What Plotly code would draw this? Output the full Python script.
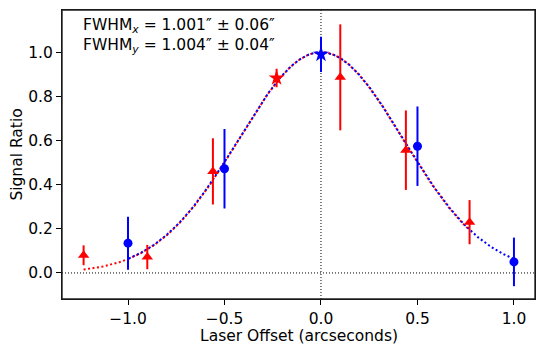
import numpy as np
import plotly.graph_objects as go

# measured points (laser offset in arcsec, signal ratio, 1-sigma error)
blue_x = [-1.0, -0.5, 0.5, 1.0]
blue_y = [0.135, 0.472, 0.574, 0.05]
blue_err = [0.12, 0.18, 0.18, 0.11]

blue_star_x = [0.0]
blue_star_y = [0.99]
blue_star_err = [0.08]

red_x = [-1.23, -0.9, -0.56, 0.10, 0.44, 0.77]
red_y = [0.08, 0.072, 0.46, 0.886, 0.556, 0.23]
red_err = [0.045, 0.055, 0.15, 0.24, 0.18, 0.10]

red_star_x = [-0.23]
red_star_y = [0.883]
red_star_err = [0.042]

# gaussian fit results
fwhm_x, fwhm_x_err = 1.001, 0.06
fwhm_y, fwhm_y_err = 1.004, 0.04

x_ticks = [-1.0, -0.5, 0.0, 0.5, 1.0]
y_ticks = [0.0, 0.2, 0.4, 0.6, 0.8, 1.0]

RED = "#ff0000"
BLUE = "#0000ff"
FONT = "DejaVu Sans"
FS = 15.5


def gauss(x, fwhm):
    sig = fwhm / (2 * np.sqrt(2 * np.log(2)))
    return np.exp(-x**2 / (2 * sig**2))


fig = go.Figure()

# fit curves - red split at -1.0 so its dots sit next to the blue ones
grid = np.linspace(-1.0, 1.0, 400)
red_left = np.linspace(min(red_x), -1.0, 50)
red_right = grid[grid <= max(red_x)]

fig.add_trace(go.Scatter(x=red_left, y=gauss(red_left, fwhm_x), mode="lines",
                         line=dict(color=RED, width=2, dash="2px,2.5px"), showlegend=False))
fig.add_trace(go.Scatter(x=red_right, y=gauss(red_right, fwhm_x), mode="lines",
                         line=dict(color=RED, width=2, dash="2px,2.5px"), showlegend=False))
fig.add_trace(go.Scatter(x=grid, y=gauss(grid, fwhm_y), mode="lines",
                         line=dict(color=BLUE, width=2, dash="0px,1px,2px,1.5px"),
                         showlegend=False))


def pts(x, y, err, color, symbol, size):
    fig.add_trace(go.Scatter(
        x=x, y=y, mode="markers",
        marker=dict(color=color, symbol=symbol, size=size, line=dict(width=0)),
        error_y=dict(type="data", array=err, color=color, thickness=2, width=0),
        showlegend=False))


pts(red_x, red_y, red_err, RED, "triangle-up", 10)
pts(red_star_x, red_star_y, red_star_err, RED, "star", 12)
pts(blue_x, blue_y, blue_err, BLUE, "circle", 9)
pts(blue_star_x, blue_star_y, blue_star_err, BLUE, "star", 12)

# zero reference lines
fig.add_hline(y=0, line=dict(color="black", width=1, dash="1px,2px"), layer="below")
fig.add_vline(x=0, line=dict(color="black", width=1, dash="1px,2px"), layer="below")

# full box around the axes
fig.add_shape(type="rect", xref="paper", yref="paper", x0=0, x1=1, y0=0, y1=1,
              line=dict(color="#222222", width=1.4), fillcolor="rgba(0,0,0,0)", layer="above")

txt = (f"FWHM<sub><i>x</i></sub> = {fwhm_x:.3f}″ ± {fwhm_x_err:.2f}″<br>"
       f"FWHM<sub><i>y</i></sub> = {fwhm_y:.3f}″ ± {fwhm_y_err:.2f}″")
fig.add_annotation(x=0.04, y=0.985, xref="paper", yref="paper", text=txt,
                   showarrow=False, xanchor="left", yanchor="top", align="left",
                   font=dict(family=FONT, size=FS, color="black"))

# axis titles
fig.add_annotation(x=0.5, y=-0.128, xref="paper", yref="paper",
                   text="Laser Offset (arcseconds)", showarrow=False,
                   xanchor="center", yanchor="middle",
                   font=dict(family=FONT, size=FS, color="black"))
fig.add_annotation(x=-0.097, y=0.5, xref="paper", yref="paper",
                   text="Signal Ratio", showarrow=False, textangle=-90,
                   xanchor="center", yanchor="middle",
                   font=dict(family=FONT, size=FS, color="black"))

axis_common = dict(showgrid=False, zeroline=False, showline=True, linecolor="black",
                   linewidth=1, mirror=True, ticks="outside", ticklen=5, tickwidth=1,
                   tickcolor="black", tickformat=".1f", automargin=False,
                   tickfont=dict(family=FONT, size=FS, color="black"))

# page body has an 8px margin, so the figure is a bit smaller than the window
fig.update_layout(
    width=536, height=344,
    margin=dict(l=54, r=9, t=2, b=53),
    plot_bgcolor="white", paper_bgcolor="white",
    font=dict(family=FONT, color="black"),
    xaxis=dict(range=[-1.342, 1.109], tickvals=x_ticks, **axis_common),
    yaxis=dict(range=[-0.118, 1.191], tickvals=y_ticks, **axis_common),
)

fig.write_html("out.html")
